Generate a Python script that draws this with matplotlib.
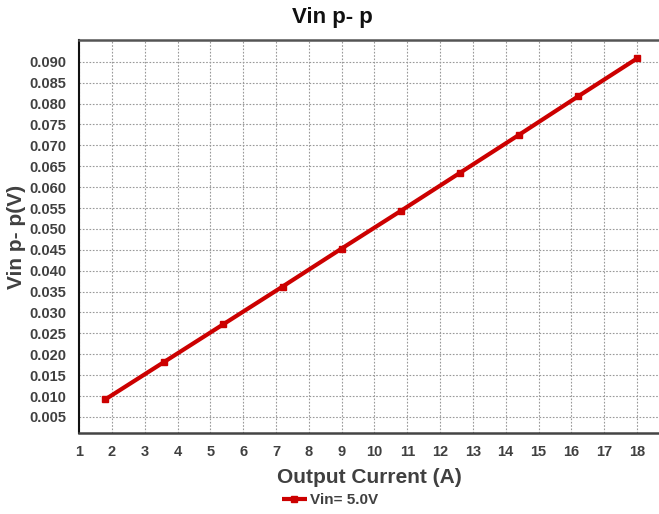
import numpy as np
import matplotlib
matplotlib.use("Agg")
import matplotlib.pyplot as plt

plt.rcParams['font.family'] = ['Liberation Sans', 'DejaVu Sans']

# data
current = [1.8, 3.6, 5.4, 7.2, 9.0, 10.8, 12.6, 14.4, 16.2, 18.0]
vin_pp = [0.0092, 0.0182, 0.0272, 0.0362, 0.0453, 0.0543, 0.0634, 0.0725, 0.0817, 0.0908]
xticks = list(range(1, 19))
yticks = [round(0.005 * i, 3) for i in range(1, 19)]

txt = '#404040'

fig = plt.figure(figsize=(6.59, 5.14), dpi=100)
ax = fig.add_axes([0.12, 0.158, 0.88, 0.764])

ax.plot(current, vin_pp, color='#cc0000', lw=3, marker='s', ms=5,
        label='Vin= 5.0V', solid_capstyle='butt')

ax.set_xlim(1, 18.67)
ax.set_ylim(0.0012, 0.0952)
ax.set_xticks(xticks)
ax.set_yticks(yticks)
ax.set_yticklabels([f"{v:.3f}" for v in yticks])
ax.tick_params(length=0, pad=9, labelsize=10.5, labelcolor=txt)
for lab in ax.get_xticklabels() + ax.get_yticklabels():
    lab.set_fontweight('bold')

ax.grid(True, color='#999999', linestyle=(0, (1.5, 1.5)), lw=0.8)
ax.spines['right'].set_visible(False)
ax.spines['top'].set_color('#555555')
ax.spines['top'].set_linewidth(1.8)
ax.spines['bottom'].set_color('#444444')
ax.spines['bottom'].set_linewidth(1.8)
ax.spines['left'].set_color('#111111')
ax.spines['left'].set_linewidth(1.5)

fig.text(0.505, 1 - 18 / 514, 'Vin p- p', fontsize=16, fontweight='bold',
         color='#111111', ha='center', va='center')
ax.set_xlabel('Output Current (A)', fontsize=15, fontweight='bold', color=txt, labelpad=6)
ax.set_ylabel('Vin p- p(V)', fontsize=15, fontweight='bold', color=txt, labelpad=0)
ax.yaxis.set_label_coords(-0.091, 0.5)

leg = fig.legend(loc='center', bbox_to_anchor=(330 / 659, 1 - 500 / 514),
                 frameon=False, handlelength=1.6, handletextpad=0.2,
                 prop={'weight': 'bold', 'size': 11})
for t in leg.get_texts():
    t.set_color(txt)

fig.savefig('out.png', dpi=100)
